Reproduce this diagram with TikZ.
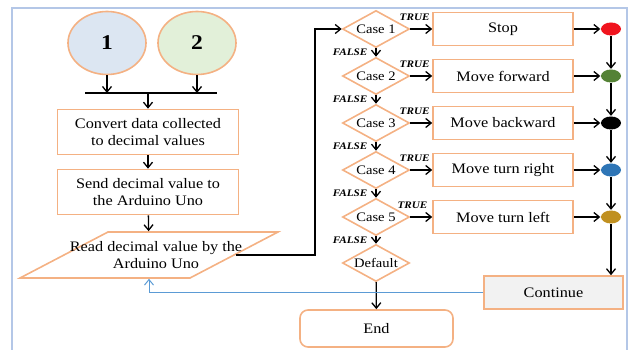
\documentclass[tikz,border=0pt]{standalone}
\usepackage{fontspec}
\setmainfont{Liberation Serif}[FakeStretch=1.12]
\usetikzlibrary{shapes.geometric,arrows.meta}

\begin{document}
\begin{tikzpicture}[x=1pt,y=-1pt,line width=1.3pt,
    font=\fontsize{14.5}{17}\selectfont,
    arr/.style={-{Straight Barb[length=5.5pt,width=9pt]}},
    edge/.style={draw=boxline, line width=1.6pt},
    src/.style={ellipse, edge, minimum width=78, minimum height=63,
      font=\bfseries\fontsize{21}{21}\selectfont},
    proc/.style={edge, minimum width=181, minimum height=45, align=center},
    act/.style={edge, minimum width=140, minimum height=33},
    case/.style={diamond, edge, aspect=1.8, inner sep=0pt,
      minimum width=67, minimum height=37, font=\fontsize{13}{13}\selectfont},
    lamp/.style={ellipse, inner sep=0pt, minimum width=20, minimum height=13},
    tf/.style={font=\bfseries\itshape\fontsize{10}{10}\selectfont, inner sep=1pt}]
\definecolor{boxline}{RGB}{244,177,131}
\definecolor{framecol}{RGB}{180,199,231}
\definecolor{backline}{RGB}{91,155,213}
\definecolor{blueone}{RGB}{220,230,242}
\definecolor{greentwo}{RGB}{226,240,217}
\definecolor{dotred}{RGB}{240,20,30}
\definecolor{dotgreen}{RGB}{84,130,53}
\definecolor{dotblue}{RGB}{46,117,182}
\definecolor{dotgold}{RGB}{192,144,32}
\definecolor{contfill}{RGB}{242,242,242}

  \useasboundingbox (0,0) rectangle (630,350);
  \draw[framecol, line width=2pt] (12,350) -- (12,8) -- (627,8) -- (627,350);

  % left column
  \node[src, fill=blueone]  (one) at (107,43) {1};
  \node[src, fill=greentwo] (two) at (197,43) {2};
  \coordinate (barL) at (85,93);
  \coordinate (barR) at (217,93);
  \coordinate (barM) at (148,93);
  \node[proc] (conv) at (148,132) {Convert data collected\\to decimal values};
  \node[proc] (send) at (148,192) {Send decimal value to\\the Arduino Uno};
  \node[trapezium, trapezium left angle=43, trapezium right angle=137,
    trapezium stretches=true, edge, align=center,
    minimum width=258, minimum height=46] (read) at (149,255) {};
  \node[inner sep=0pt, align=center] (readtxt) at (156,255)
    {Read decimal value by the\\Arduino Uno};

  \draw (barL) -- (barR);
  \draw[arr] (one.south) -- (one.south |- barM);
  \draw[arr] (two.south) -- (two.south |- barM);
  \draw[arr] (barM) -- (conv);
  \draw[arr] (conv) -- (send);
  \draw[arr] (send) -- (read);

  % switch cases
  \coordinate (turn) at (315,29);
  \node[case] (c1) at (376,29)  {Case 1};
  \node[case] (c2) at (376,76)  {Case 2};
  \node[case] (c3) at (376,123) {Case 3};
  \node[case] (c4) at (376,170) {Case 4};
  \node[case] (c5) at (376,217) {Case 5};
  \node[case] (dflt) at (376,263) {Default};
  \node[edge, rounded corners=8pt, minimum width=153,
    minimum height=37] (end) at (376.5,328.5) {End};

  \draw[arr] (read.east) -| (turn) -- (c1);
  \draw[arr] (c1) -- node[tf, left=7pt] {FALSE} (c2);
  \draw[arr] (c2) -- node[tf, left=7pt] {FALSE} (c3);
  \draw[arr] (c3) -- node[tf, left=7pt] {FALSE} (c4);
  \draw[arr] (c4) -- node[tf, left=7pt] {FALSE} (c5);
  \draw[arr] (c5) -- node[tf, left=7pt] {FALSE} (dflt);
  \draw[arr] (dflt) -- (end);

  % actions
  \node[act] (stop) at (503,29)  {Stop};
  \node[act] (fwd)  at (503,76)  {Move forward};
  \node[act] (back) at (503,123) {Move backward};
  \node[act] (rgt)  at (503,170) {Move turn right};
  \node[act] (lft)  at (503,217) {Move turn left};

  \draw[arr] (c1) -- node[tf, above=7pt, pos=0.2] {TRUE} (stop);
  \draw[arr] (c2) -- node[tf, above=7pt, pos=0.2] {TRUE} (fwd);
  \draw[arr] (c3) -- node[tf, above=7pt, pos=0.2] {TRUE} (back);
  \draw[arr] (c4) -- node[tf, above=7pt, pos=0.2] {TRUE} (rgt);
  \draw[arr] (c5) -- node[tf, above=7pt, pos=0.1] {TRUE} (lft);

  % lamps and continue
  \node[lamp, fill=dotred]   (l1) at (611,29)  {};
  \node[lamp, fill=dotgreen] (l2) at (611,76)  {};
  \node[lamp, fill=black]    (l3) at (611,123) {};
  \node[lamp, fill=dotblue]  (l4) at (611,170) {};
  \node[lamp, fill=dotgold]  (l5) at (611,217) {};
  \node[edge, fill=contfill, minimum width=139,
    minimum height=33] (cont) at (553.5,292.5) {Continue};

  \draw[arr] (stop) -- (l1);
  \draw[arr] (fwd)  -- (l2);
  \draw[arr] (back) -- (l3);
  \draw[arr] (rgt)  -- (l4);
  \draw[arr] (lft)  -- (l5);
  \draw[arr] (l1) -- (l2);
  \draw[arr] (l2) -- (l3);
  \draw[arr] (l3) -- (l4);
  \draw[arr] (l4) -- (l5);
  \draw[arr] (l5) -- (l5 |- cont.north);
  \draw[arr, backline, line width=1pt] (cont.west) -| (read.south);
\end{tikzpicture}
\end{document}
